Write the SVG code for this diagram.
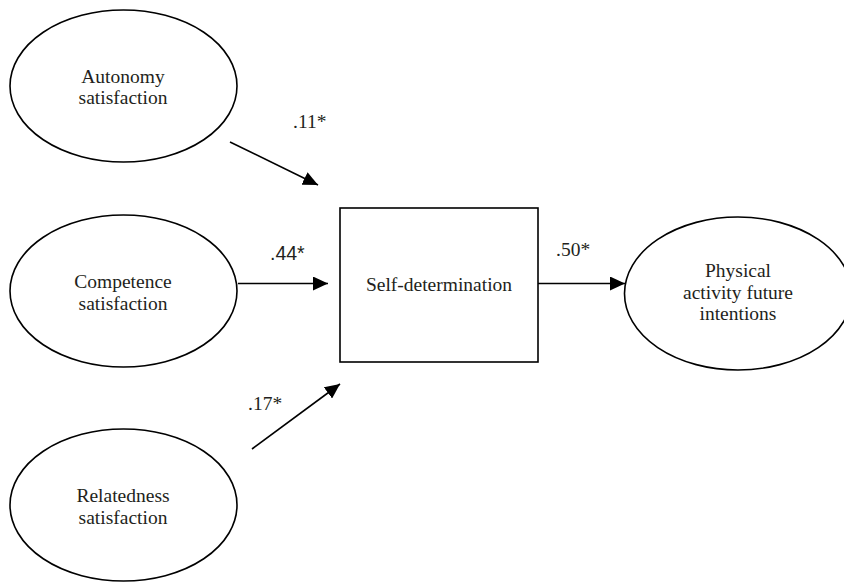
<svg xmlns="http://www.w3.org/2000/svg" width="844" height="582" viewBox="0 0 844 582">
<style>
.n{fill:#fff;stroke:#000;stroke-width:1.6}
.t{text-anchor:middle}
.c{stroke:#000;stroke-width:1.6;fill:none;marker-end:url(#ah)}
</style>
<defs>
<marker id="ah" markerUnits="userSpaceOnUse" markerWidth="16" markerHeight="14" refX="15" refY="7" orient="auto">
<path d="M0,0 L15,7 L0,14 Z" fill="#000"/>
</marker>
</defs>
<rect width="844" height="582" fill="#fff"/>
<g font-family="'Liberation Serif', 'Times New Roman', Times, serif" font-size="19.5" fill="#231f20">
<g id="autonomy">
<ellipse class="n" cx="123.5" cy="86" rx="113.5" ry="76"/>
<text class="t" x="123" y="83">Autonomy</text>
<text class="t" x="123" y="104">satisfaction</text>
</g>
<g id="competence">
<ellipse class="n" cx="123.5" cy="291" rx="113.5" ry="76"/>
<text class="t" x="123" y="288">Competence</text>
<text class="t" x="123" y="310">satisfaction</text>
</g>
<g id="relatedness">
<ellipse class="n" cx="123.5" cy="505" rx="113.5" ry="76"/>
<text class="t" x="123" y="502">Relatedness</text>
<text class="t" x="123" y="524">satisfaction</text>
</g>
<g id="selfdetermination">
<rect class="n" x="340" y="208" width="198" height="154"/>
<text class="t" x="439" y="291">Self-determination</text>
</g>
<g id="intentions">
<ellipse class="n" cx="738" cy="293.5" rx="113.5" ry="76.5"/>
<text class="t" x="738" y="277">Physical</text>
<text class="t" x="738" y="299">activity future</text>
<text class="t" x="738" y="320">intentions</text>
</g>
<g id="connectors">
<line class="c" x1="230" y1="142" x2="318" y2="185"/>
<line class="c" x1="238" y1="283.5" x2="328" y2="283.5"/>
<line class="c" x1="252" y1="449" x2="340" y2="384"/>
<line class="c" x1="538" y1="283.5" x2="625" y2="283.5"/>
<text x="293" y="128">.11*</text>
<text x="270" y="260" font-family="'Liberation Sans', Arial, sans-serif">.44*</text>
<text x="248" y="410">.17*</text>
<text x="556" y="256">.50*</text>
</g>
</g>
</svg>
